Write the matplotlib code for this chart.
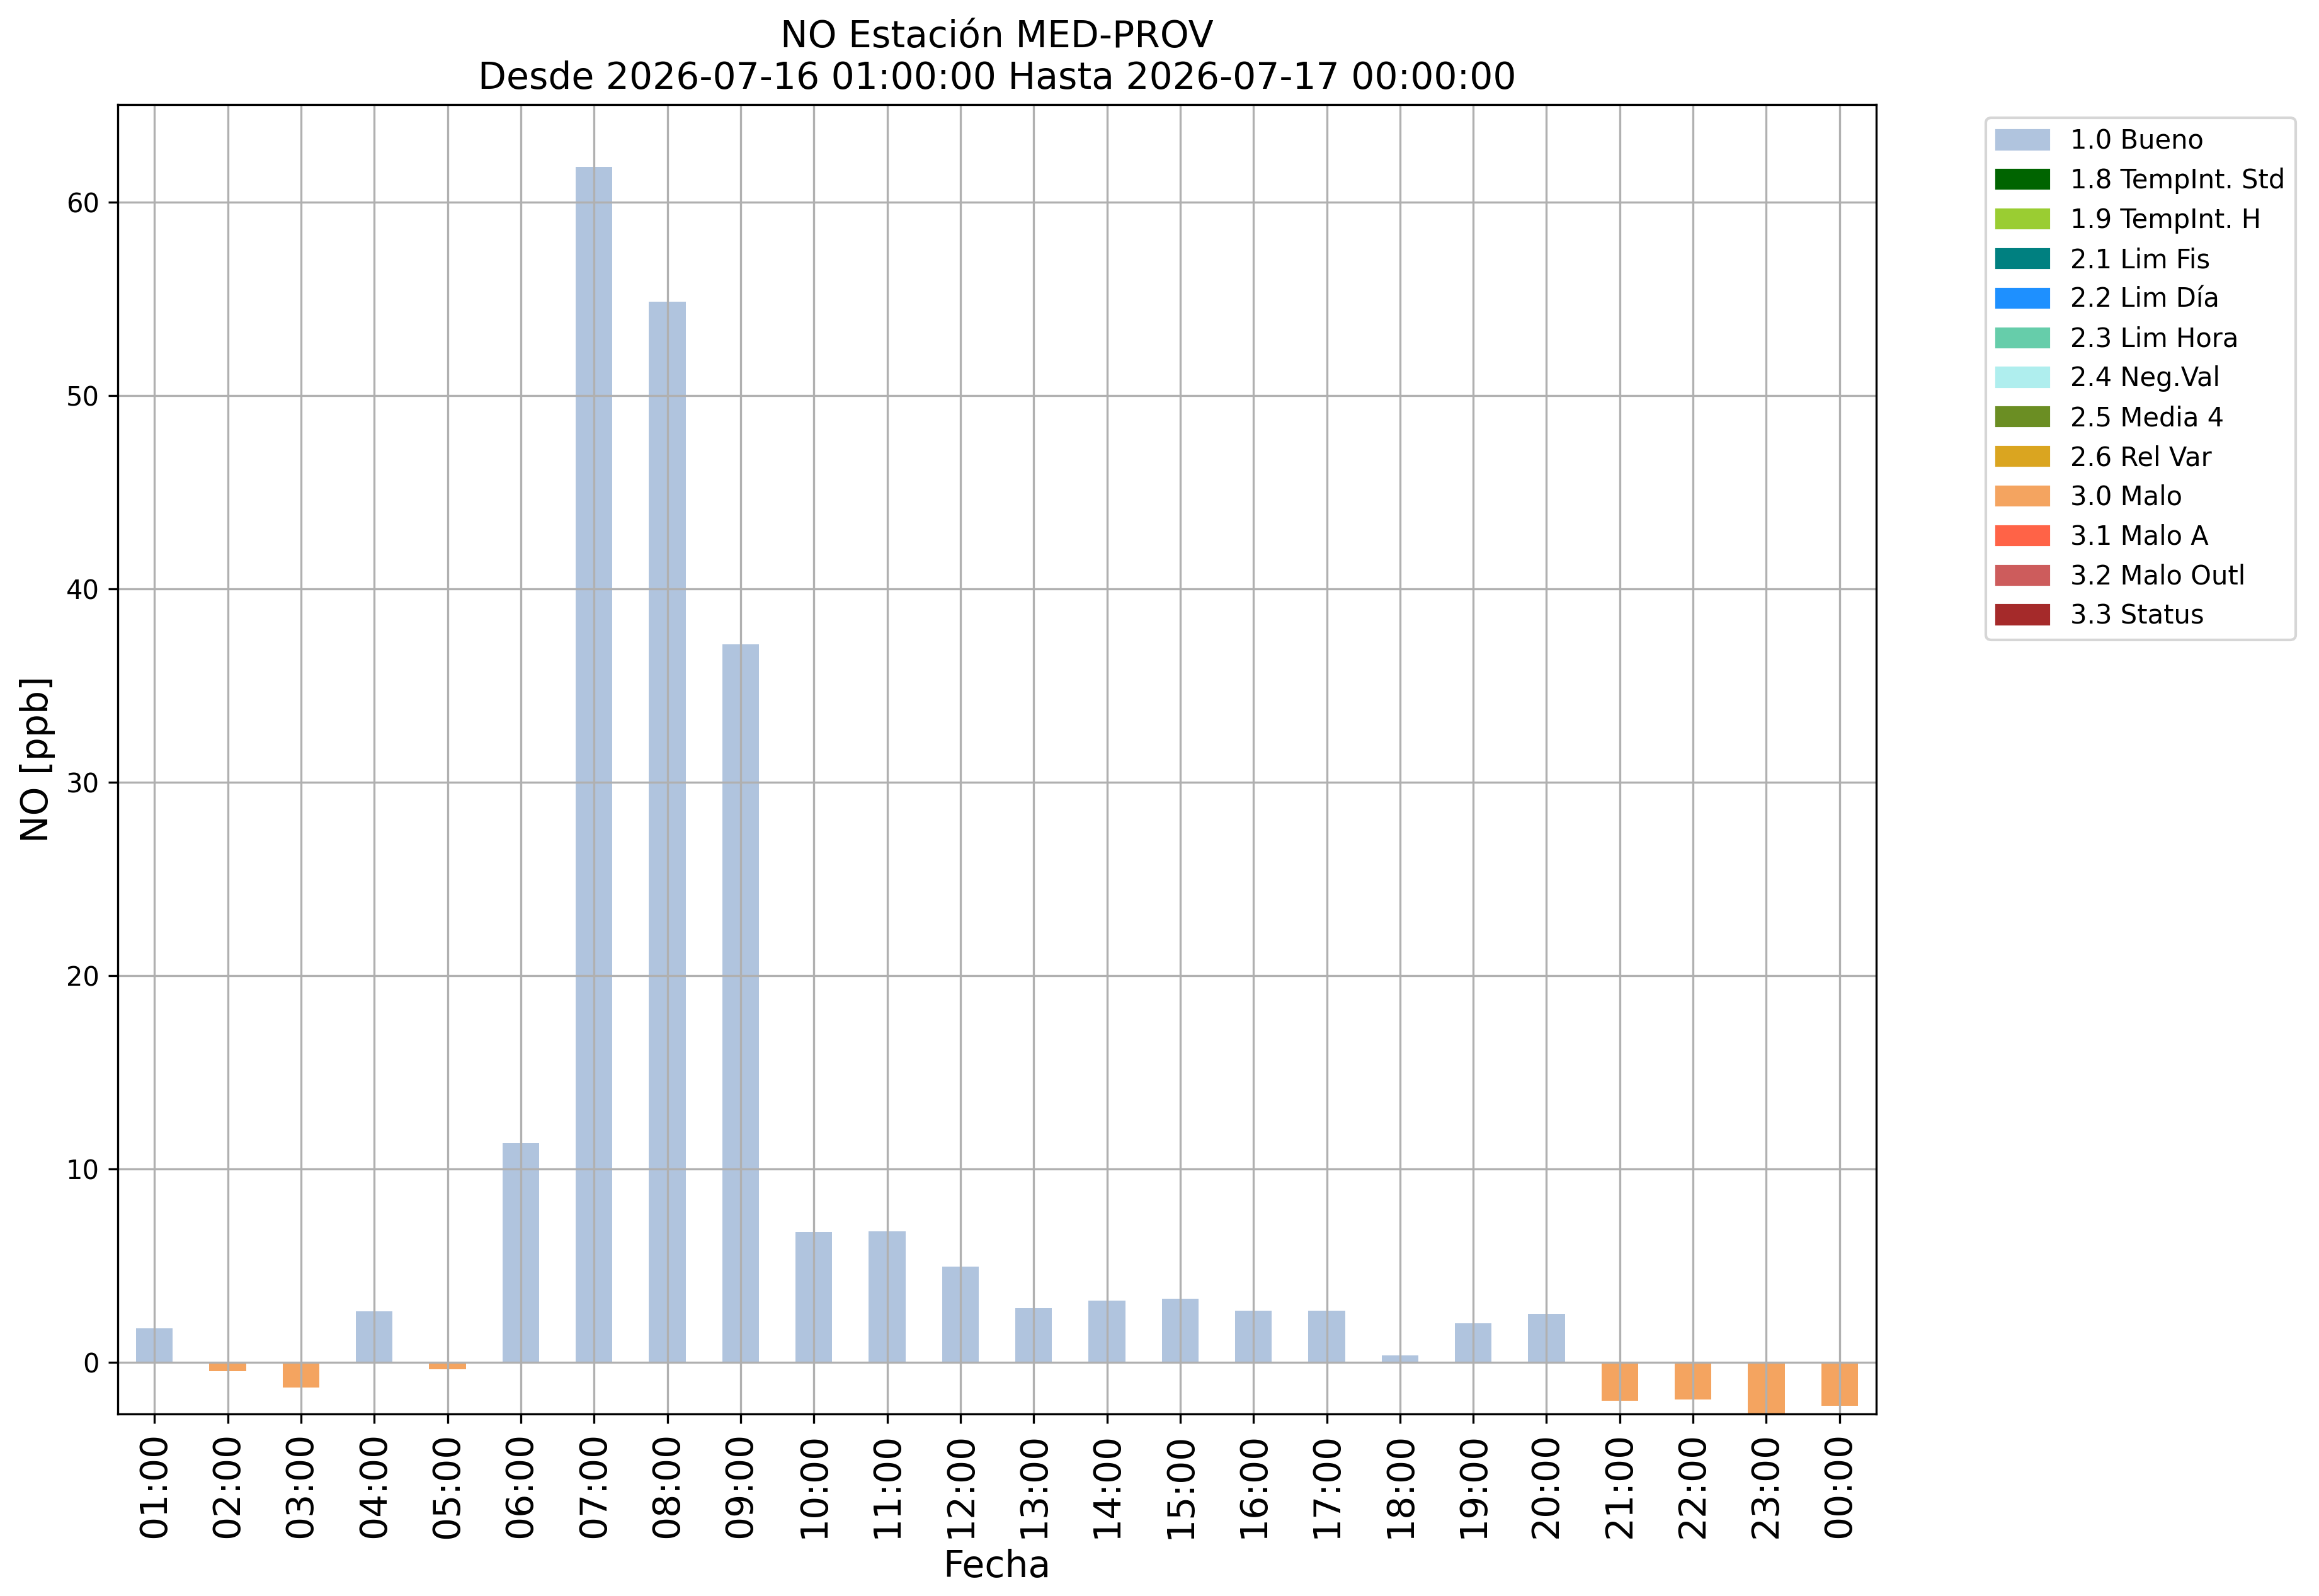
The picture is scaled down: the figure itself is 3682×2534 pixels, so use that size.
import numpy as np
import matplotlib
matplotlib.use('Agg')
import matplotlib.pyplot as plt
import matplotlib.patches as mpatches

horas = ['01:00', '02:00', '03:00', '04:00', '05:00', '06:00', '07:00', '08:00',
         '09:00', '10:00', '11:00', '12:00', '13:00', '14:00', '15:00', '16:00',
         '17:00', '18:00', '19:00', '20:00', '21:00', '22:00', '23:00', '00:00']
valores = [1.76, -0.44, -1.29, 2.64, -0.37, 11.33, 61.83, 54.86,
           37.13, 6.74, 6.78, 4.96, 2.81, 3.20, 3.30, 2.68,
           2.68, 0.37, 2.03, 2.52, -1.97, -1.93, -2.67, -2.26]
flags = ['1.0 Bueno', '3.0 Malo', '3.0 Malo', '1.0 Bueno', '3.0 Malo', '1.0 Bueno',
         '1.0 Bueno', '1.0 Bueno', '1.0 Bueno', '1.0 Bueno', '1.0 Bueno', '1.0 Bueno',
         '1.0 Bueno', '1.0 Bueno', '1.0 Bueno', '1.0 Bueno', '1.0 Bueno', '1.0 Bueno',
         '1.0 Bueno', '1.0 Bueno', '3.0 Malo', '3.0 Malo', '3.0 Malo', '3.0 Malo']

# etiquetas de calidad y sus colores
etiquetas = ['1.0 Bueno', '1.8 TempInt. Std', '1.9 TempInt. H', '2.1 Lim Fis',
             '2.2 Lim Día', '2.3 Lim Hora', '2.4 Neg.Val', '2.5 Media 4',
             '2.6 Rel Var', '3.0 Malo', '3.1 Malo A', '3.2 Malo Outl', '3.3 Status']
colores = ['lightsteelblue', 'darkgreen', 'yellowgreen', 'teal',
           'dodgerblue', 'mediumaquamarine', 'paleturquoise', 'olivedrab',
           'goldenrod', 'sandybrown', 'tomato', 'indianred', 'brown']
color_flag = dict(zip(etiquetas, colores))

fig = plt.figure(figsize=(3682 / 300, 2534 / 300))
ax = fig.add_axes([187 / 3682, 289 / 2534, 2792 / 3682, 2079 / 2534])
x = np.arange(len(horas))
ax.bar(x, valores, width=0.5, color=[color_flag[f] for f in flags])
ax.set_xlim(-0.5, len(horas) - 0.5)
ax.set_ylim(bottom=min(valores))
ax.set_xticks(x)
ax.set_xticklabels(horas, rotation=90, fontsize=14)
ax.grid(True)

ax.set_title('NO Estación MED-PROV\nDesde 2026-07-16 01:00:00 Hasta 2026-07-17 00:00:00',
             fontsize=14)
ax.set_xlabel('Fecha', fontsize=14)
ax.set_ylabel('NO [ppb]', fontsize=14)

handles = [mpatches.Patch(color=c, label=l) for l, c in zip(etiquetas, colores)]
ax.legend(handles=handles, bbox_to_anchor=(1.055, 1), loc='upper left')

plt.savefig('out.png', dpi=300)
